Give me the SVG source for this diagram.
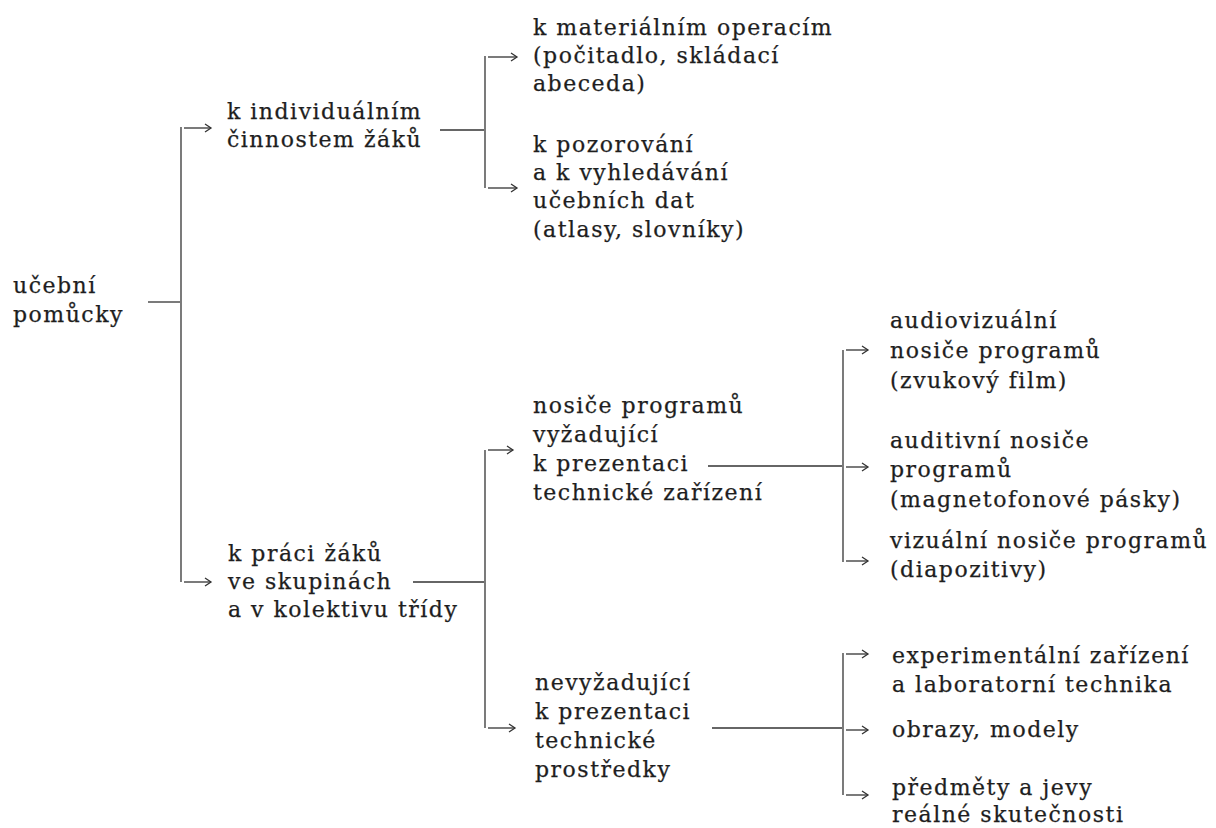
<svg xmlns="http://www.w3.org/2000/svg" width="1216" height="828" viewBox="0 0 1216 828">
<defs>
<marker id="ah" markerUnits="userSpaceOnUse" markerWidth="12" markerHeight="12" refX="8" refY="6" orient="auto">
<path d="M2,2 L8,6 L2,10" fill="none" stroke="#333" stroke-width="1.3"/>
</marker>
</defs>
<style>
text{font-family:"DejaVu Serif","Liberation Serif",serif;font-size:22px;letter-spacing:1.5px;fill:#1e1e1e;stroke:#1e1e1e;stroke-width:0.25}
.c line{stroke:#333;stroke-width:1.3}
.c .a{marker-end:url(#ah)}
</style>
<rect width="1216" height="828" fill="#fff"/>
<g id="connectors" class="c">
<line x1="148" y1="302" x2="180" y2="302"/>
<line x1="181" y1="127" x2="181" y2="582"/>
<line class="a" x1="184" y1="128" x2="211" y2="128"/>
<line class="a" x1="184" y1="582" x2="211" y2="582"/>
<line x1="440" y1="130" x2="484" y2="130"/>
<line x1="485" y1="56" x2="485" y2="188"/>
<line class="a" x1="488" y1="57" x2="517" y2="57"/>
<line class="a" x1="488" y1="188" x2="517" y2="188"/>
<line x1="413" y1="582" x2="484" y2="582"/>
<line x1="485" y1="450" x2="485" y2="728"/>
<line class="a" x1="488" y1="450" x2="513" y2="450"/>
<line class="a" x1="488" y1="728" x2="515" y2="728"/>
<line x1="708" y1="466" x2="842" y2="466"/>
<line x1="843" y1="350" x2="843" y2="562"/>
<line class="a" x1="846" y1="350" x2="868" y2="350"/>
<line class="a" x1="846" y1="467" x2="868" y2="467"/>
<line class="a" x1="846" y1="561" x2="868" y2="561"/>
<line x1="712" y1="728" x2="842" y2="728"/>
<line x1="843" y1="653" x2="843" y2="795"/>
<line class="a" x1="846" y1="654" x2="868" y2="654"/>
<line class="a" x1="846" y1="730" x2="868" y2="730"/>
<line class="a" x1="846" y1="795" x2="868" y2="795"/>
</g>
<g id="n-root"><text x="13" y="293">učební</text><text x="13" y="322">pomůcky</text></g>
<g id="n-individual"><text x="227" y="119">k individuálním</text><text x="227" y="147">činnostem žáků</text></g>
<g id="n-group"><text x="228" y="561">k práci žáků</text><text x="228" y="589">ve skupinách</text><text x="228" y="617">a v kolektivu třídy</text></g>
<g id="n-material"><text x="533" y="35">k materiálním operacím</text><text x="533" y="63">(počitadlo, skládací</text><text x="533" y="91">abeceda)</text></g>
<g id="n-observe"><text x="533" y="152">k pozorování</text><text x="533" y="180">a k vyhledávání</text><text x="533" y="208">učebních dat</text><text x="533" y="237">(atlasy, slovníky)</text></g>
<g id="n-tech"><text x="533" y="413">nosiče programů</text><text x="533" y="442">vyžadující</text><text x="533" y="471">k prezentaci</text><text x="533" y="500">technické zařízení</text></g>
<g id="n-notech"><text x="535" y="690">nevyžadující</text><text x="535" y="719">k prezentaci</text><text x="535" y="748">technické</text><text x="535" y="777">prostředky</text></g>
<g id="n-av"><text x="890" y="328">audiovizuální</text><text x="890" y="358">nosiče programů</text><text x="890" y="388">(zvukový film)</text></g>
<g id="n-audit"><text x="890" y="448">auditivní nosiče</text><text x="890" y="477">programů</text><text x="890" y="507">(magnetofonové pásky)</text></g>
<g id="n-visual"><text x="890" y="548">vizuální nosiče programů</text><text x="890" y="577">(diapozitivy)</text></g>
<g id="n-exp"><text x="892" y="663">experimentální zařízení</text><text x="892" y="692">a laboratorní technika</text></g>
<g id="n-img"><text x="892" y="737">obrazy, modely</text></g>
<g id="n-real"><text x="892" y="795">předměty a jevy</text><text x="892" y="822">reálné skutečnosti</text></g>
</svg>
